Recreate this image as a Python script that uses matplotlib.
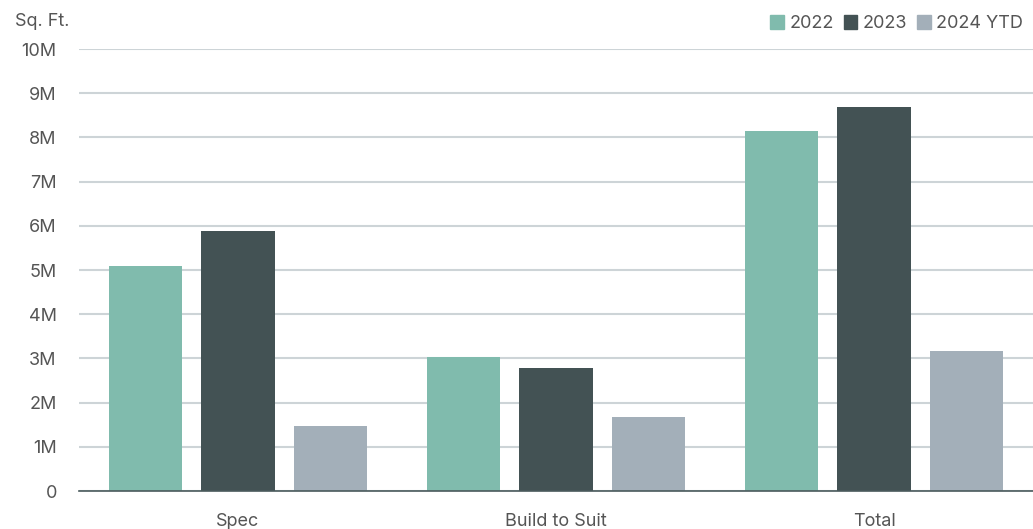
import matplotlib
matplotlib.use('Agg')
import matplotlib.pyplot as plt
from matplotlib.patches import Patch
import numpy as np

# data (million sq. ft.)
categories = ['Spec', 'Build to Suit', 'Total']
series_names = ['2022', '2023', '2024 YTD']
vals_2022 = [5.09, 3.03, 8.14]
vals_2023 = [5.88, 2.78, 8.69]
vals_2024 = [1.47, 1.67, 3.17]
yticks = [0, 1, 2, 3, 4, 5, 6, 7, 8, 9, 10]
ytick_labels = ['0', '1M', '2M', '3M', '4M', '5M', '6M', '7M', '8M', '9M', '10M']

colors = ['#80bbad', '#435254', '#a3afb9']
text_color = '#555555'

plt.rcParams['font.family'] = ['Inter', 'DejaVu Sans']

fig = plt.figure(figsize=(10.33, 5.29), dpi=100)
ax = fig.add_axes([0.0765, 0.0718, 0.9235, 0.8355])

x = np.arange(len(categories))
width = 0.23
step = 0.29
for i, (vals, c) in enumerate(zip([vals_2022, vals_2023, vals_2024], colors)):
    ax.bar(x + (i - 1) * step, vals, width, color=c, zorder=3)

ax.set_xlim(-0.5, 2.5)
ax.set_ylim(0, 10)
ax.set_yticks(yticks)
ax.set_yticklabels(ytick_labels)
ax.set_xticks(x)
ax.set_xticklabels(categories)
ax.grid(axis='y', color='#cdd4d7', linewidth=1.5, zorder=0)
for s in ['top', 'right', 'left']:
    ax.spines[s].set_visible(False)
ax.spines['bottom'].set_color('#4a5a5c')
ax.spines['bottom'].set_linewidth(1.2)
ax.spines['bottom'].set_zorder(4)
ax.tick_params(axis='y', length=0, pad=16, labelsize=13, labelcolor=text_color)
ax.tick_params(axis='x', length=0, pad=16, labelsize=13, labelcolor=text_color)

fig.text(0.015, 0.975, 'Sq. Ft.', ha='left', va='top', fontsize=13, color=text_color)

handles = [Patch(color=c) for c in colors]
fig.legend(handles, series_names, loc='upper right', bbox_to_anchor=(1.006, 1.002),
           ncol=3, frameon=False, fontsize=13, labelcolor=text_color,
           handlelength=0.75, handleheight=0.75, handletextpad=0.3, columnspacing=0.55)

fig.savefig('out.png', dpi=100)
